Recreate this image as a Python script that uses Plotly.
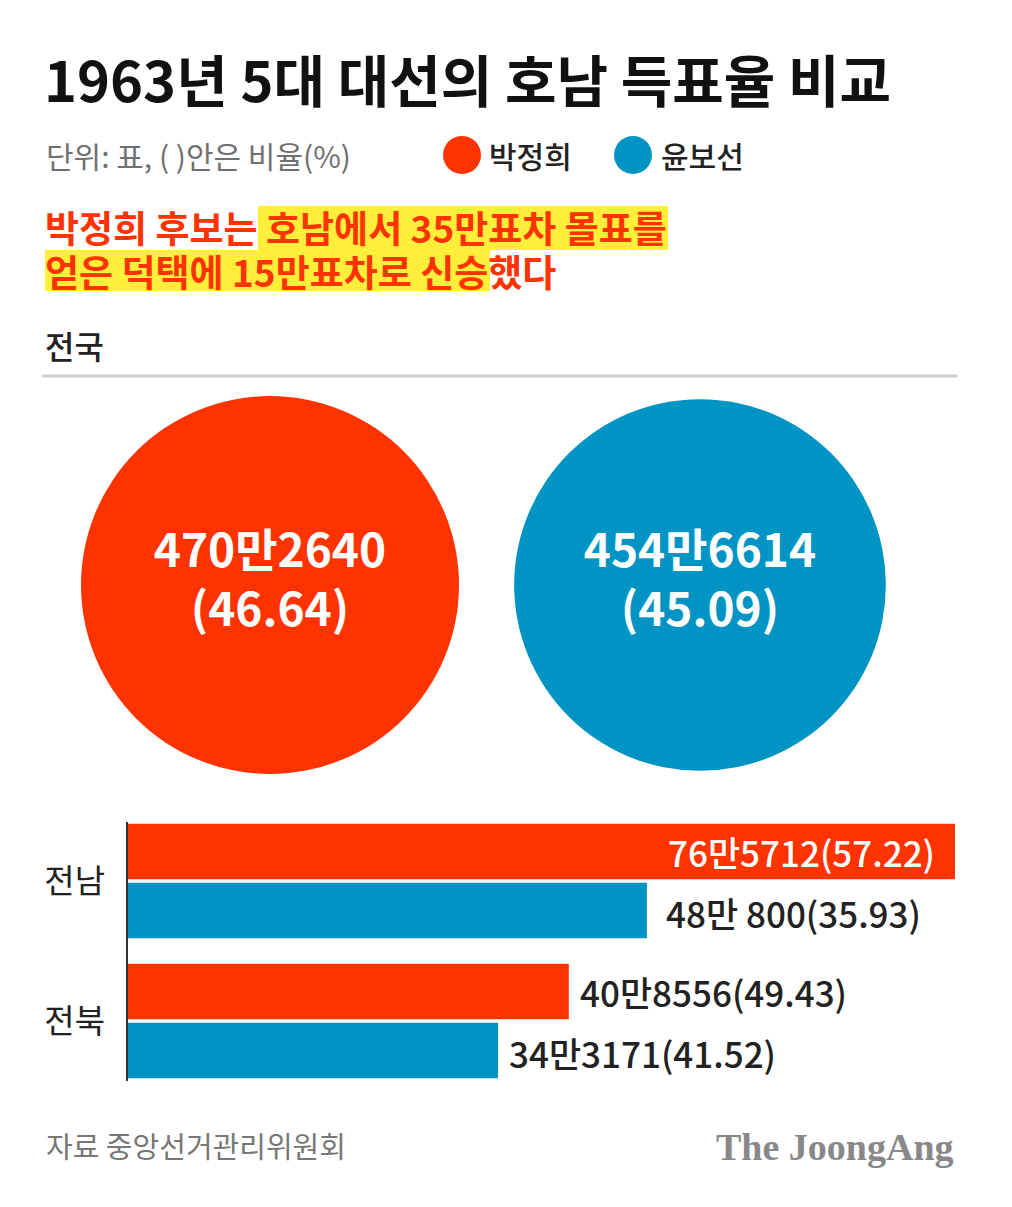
import plotly.graph_objects as go
import math

# ---------------- data ----------------
candidates = ["박정희", "윤보선"]
national_votes = [4702640, 4546614]
national_labels = ["470만2640<br>(46.64)", "454만6614<br>(45.09)"]

regions = ["전남", "전북"]
park_votes = [765712, 408556]
yun_votes = [480800, 343171]
park_labels = ["76만5712(57.22)", "40만8556(49.43)"]
yun_labels = ["48만 800(35.93)", "34만3171(41.52)"]

title = "1963년 5대 대선의 호남 득표율 비교"
unit_text = "단위: 표, ( )안은 비율(%)"
headline1 = "박정희 후보는 호남에서 35만표차 몰표를"
headline2 = "얻은 덕택에 15만표차로 신승했다"
section = "전국"
source = "자료 중앙선거관리위원회"
brand = "The JoongAng"

# ---------------- style ----------------
W, H = 1012, 1207
RED = "#FF3300"
BLUE = "#0094C4"
KR = "Noto Sans CJK KR"


def px(x):
    return x / W


def py(y):
    return 1 - y / H


fig = go.Figure()

# national circles (area proportional to votes)
vmax = max(national_votes)
sizes = [378 * math.sqrt(v / vmax) for v in national_votes]
fig.add_trace(go.Scatter(
    x=candidates, y=[0, 0], mode="markers+text",
    marker=dict(size=sizes, color=[RED, BLUE], line=dict(width=0), opacity=1),
    text=national_labels, textposition="middle center",
    textfont=dict(family=KR, size=46, color="white", weight=700),
    xaxis="x2", yaxis="y2", hoverinfo="skip", showlegend=False, cliponaxis=False,
))

# regional bars
fig.add_trace(go.Bar(
    y=regions, x=park_votes, orientation="h", marker=dict(color=RED, line=dict(width=0)),
    showlegend=False, hoverinfo="skip",
))
fig.add_trace(go.Bar(
    y=regions, x=yun_votes, orientation="h", marker=dict(color=BLUE, line=dict(width=0)),
    showlegend=False, hoverinfo="skip",
))

fig.update_layout(
    width=W, height=H, margin=dict(l=0, r=0, t=0, b=0),
    paper_bgcolor="white", plot_bgcolor="white",
    barmode="group", bargap=0.157, bargroupgap=0.06,
    xaxis=dict(domain=[px(127), px(955)], range=[0, max(park_votes)], visible=False, fixedrange=True),
    yaxis=dict(domain=[py(1091), py(811)], autorange="reversed", showgrid=False, zeroline=False,
               showline=False, ticks="", ticklabelstandoff=21,
               tickfont=dict(family=KR, size=33, color="#222222")),
    xaxis2=dict(domain=[px(55), px(915)], range=[-0.5, 1.5], visible=False, anchor="y2"),
    yaxis2=dict(domain=[py(775), py(395)], range=[-1, 1], visible=False, anchor="x2"),
    font=dict(family=KR),
)

shapes = []
# highlight behind headline
shapes.append(dict(type="rect", xref="paper", yref="paper", x0=px(258), x1=px(668), y0=py(250), y1=py(206),
                   fillcolor="#FFEF3A", line=dict(width=0), layer="below"))
shapes.append(dict(type="rect", xref="paper", yref="paper", x0=px(45), x1=px(490), y0=py(291), y1=py(250),
                   fillcolor="#FFEF3A", line=dict(width=0), layer="below"))
# separator line
shapes.append(dict(type="line", xref="paper", yref="paper", x0=px(42), x1=px(957), y0=py(376), y1=py(376),
                   line=dict(color="#CCCCCC", width=3)))
# bar baseline
shapes.append(dict(type="line", xref="paper", yref="paper", x0=px(127), x1=px(127), y0=py(822), y1=py(1081),
                   line=dict(color="#333333", width=2)))
# legend dots
for cx, col in [(462, RED), (633, BLUE)]:
    shapes.append(dict(type="circle", xref="paper", yref="paper", x0=px(cx - 19), x1=px(cx + 19),
                       y0=py(155 + 19), y1=py(155 - 19), fillcolor=col, line=dict(width=0)))
fig.update_layout(shapes=shapes)

ann = []


def add_text(x, y, text, size, color, weight=400, xanchor="left", family=KR):
    ann.append(dict(xref="paper", yref="paper", x=px(x), y=py(y), text=text, showarrow=False,
                    xanchor=xanchor, yanchor="middle", borderpad=0, align="left",
                    font=dict(family=family, size=size, color=color, weight=weight)))


add_text(43, 78, title, 56, "#111111", 700)
add_text(45, 155, unit_text, 30, "#707070", 400)
add_text(488, 155, candidates[0], 30, "#222222", 500)
add_text(660, 155, candidates[1], 30, "#222222", 500)
add_text(44, 227, headline1, 37, RED, 700)
add_text(44, 271, headline2, 37, RED, 700)
add_text(44, 345, section, 32, "#222222", 500)
add_text(45, 1145, source, 29, "#777777", 400)
add_text(955, 1147, brand, 38, "#888888", 700, xanchor="right", family="Liberation Serif")

# bar value labels, placed through the bar axes
LBL = 35
for i, r in enumerate(regions):
    inside = park_votes[i] == max(park_votes)
    ann.append(dict(xref="x", yref="y", x=park_votes[i], y=r, yshift=30,
                    xshift=-18 if inside else 9, xanchor="right" if inside else "left",
                    yanchor="middle", text=park_labels[i], showarrow=False,
                    font=dict(family=KR, size=LBL, color="white" if inside else "#222222", weight=500)))
    ann.append(dict(xref="x", yref="y", x=yun_votes[i], y=r, yshift=-31,
                    xshift=17 if i == 0 else 9, xanchor="left",
                    yanchor="middle", text=yun_labels[i], showarrow=False,
                    font=dict(family=KR, size=LBL, color="#222222", weight=500)))
fig.update_layout(annotations=ann)

fig.write_html("out.html")
